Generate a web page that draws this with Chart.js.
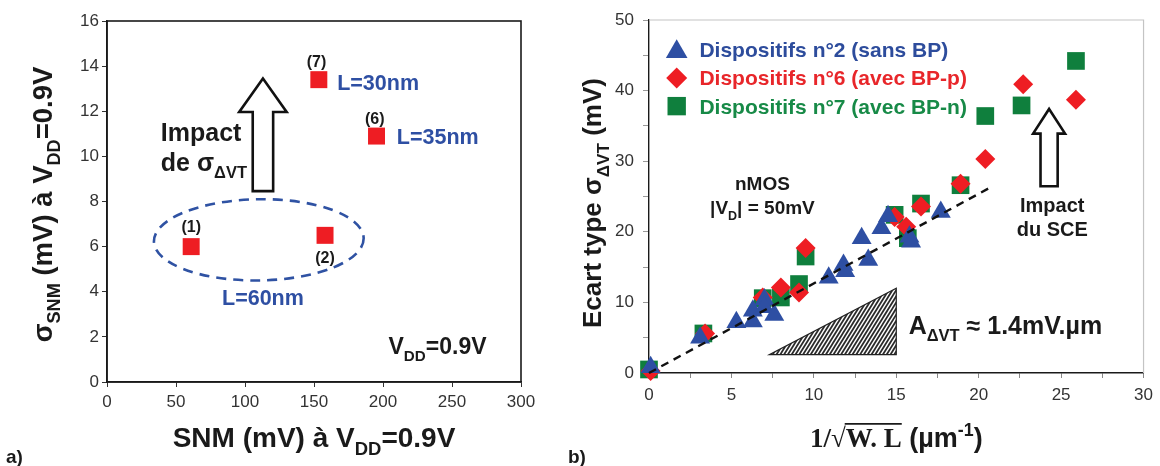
<!DOCTYPE html>
<html><head><meta charset="utf-8">
<script src="https://cdn.jsdelivr.net/npm/chart.js@4.4.0/dist/chart.umd.min.js"></script>
<style>
html,body{margin:0;padding:0;background:#fff;}
#wrap{position:relative;width:1160px;height:466px;overflow:hidden;background:#fff;}
#a{position:absolute;left:0;top:0;}
#b{position:absolute;left:560px;top:0;}
</style></head><body>
<div id="wrap"><canvas id="a" width="560" height="466"></canvas><canvas id="b" width="600" height="466"></canvas></div>
<script>
// ---------- data : chart a ----------
const snmValues = [61, 158, 153.5, 195.3];
const sigmaSnmValues = [6.0, 6.5, 13.4, 10.9];
const deviceTags = ['(1)', '(2)', '(7)', '(6)'];
// ---------- data : chart b ----------
const seriesNames = ['Dispositifs n°2 (sans BP)', 'Dispositifs n°6 (avec BP-p)', 'Dispositifs n°7 (avec BP-n)'];
const dev2X = [0.1, 3.1, 5.3, 6.3, 6.3, 7.0, 7.0, 7.6, 10.9, 11.8, 11.9, 12.9, 13.3, 14.1, 14.5, 15.8, 15.9, 17.7];
const dev2Y = [0.8, 5.0, 7.2, 7.3, 8.8, 10.4, 9.3, 8.2, 13.5, 15.3, 14.4, 19.1, 16.0, 20.5, 22.2, 19.3, 18.6, 22.8];
const dev6X = [0.1, 3.4, 6.9, 8.0, 9.1, 9.5, 14.9, 15.6, 16.5, 18.9, 20.4, 22.7, 25.9];
const dev6Y = [0.3, 5.6, 10.7, 12.1, 11.4, 17.7, 22.1, 20.7, 23.6, 26.8, 30.3, 40.9, 38.7];
const dev7X = [0.0, 3.3, 6.9, 8.0, 9.1, 9.5, 14.9, 15.7, 16.5, 18.9, 20.4, 22.6, 25.9];
const dev7Y = [0.5, 5.6, 10.6, 10.7, 12.6, 16.5, 22.4, 19.1, 24.0, 26.6, 36.4, 37.9, 44.2];
const fitX = [0, 20.8];
const fitY = [0, 26.4];

const FONT = "'Liberation Sans', Arial, Helvetica, sans-serif";
const SERIF = "'Liberation Serif', 'DejaVu Serif', serif";
const BLUE = '#2E4FA3', RED = '#EE1D23', GREEN = '#0F7F3D', INK = '#1a1a1a';

function pts(xs, ys) { return xs.map((x, i) => ({x: x, y: ys[i]})); }

function drawRich(ctx, parts, x, y, o) {
  ctx.save();
  ctx.translate(x, y);
  if (o.rotate) ctx.rotate(o.rotate);
  const fontOf = p => {
    const s = (p.sub || p.sup) ? o.size * 0.66 : o.size;
    return (p.weight || o.weight || 'bold') + ' ' + s + 'px ' + (p.family || o.family || FONT);
  };
  let total = 0;
  const widths = parts.map(p => { ctx.font = fontOf(p); const w = ctx.measureText(p.t).width; total += w; return w; });
  let cx = o.align === 'center' ? -total / 2 : (o.align === 'right' ? -total : 0);
  ctx.textBaseline = 'alphabetic';
  ctx.textAlign = 'left';
  ctx.fillStyle = o.color || INK;
  ctx.strokeStyle = o.color || INK;
  parts.forEach((p, i) => {
    ctx.font = fontOf(p);
    const dy = p.sub ? o.size * 0.3 : (p.sup ? -o.size * 0.4 : 0);
    ctx.fillText(p.t, cx, dy);
    if (p.overline) {
      ctx.lineWidth = 1.8;
      ctx.beginPath();
      ctx.moveTo(cx - 1, -o.size * 0.86);
      ctx.lineTo(cx + widths[i], -o.size * 0.86);
      ctx.stroke();
    }
    cx += widths[i];
  });
  ctx.restore();
}

function hollowArrow(ctx, sx, sy, a) {
  const cx = sx.getPixelForValue(a.x);
  const tip = sy.getPixelForValue(a.tip);
  const base = sy.getPixelForValue(a.headBase);
  const bottom = sy.getPixelForValue(a.bottom);
  const hw = Math.abs(sx.getPixelForValue(a.x + a.headHalf) - cx);
  const sw = Math.abs(sx.getPixelForValue(a.x + a.shaftHalf) - cx);
  ctx.save();
  ctx.beginPath();
  ctx.moveTo(cx, tip);
  ctx.lineTo(cx + hw, base);
  ctx.lineTo(cx + sw, base);
  ctx.lineTo(cx + sw, bottom);
  ctx.lineTo(cx - sw, bottom);
  ctx.lineTo(cx - sw, base);
  ctx.lineTo(cx - hw, base);
  ctx.closePath();
  ctx.fillStyle = '#fff';
  ctx.fill();
  ctx.lineWidth = 2.6;
  ctx.lineJoin = 'miter';
  ctx.strokeStyle = '#111';
  ctx.stroke();
  ctx.restore();
}

function marker(ctx, style, x, y, r, color) {
  ctx.save();
  ctx.fillStyle = color;
  ctx.beginPath();
  if (style === 'triangle') {
    ctx.moveTo(x, y - r);
    ctx.lineTo(x + r * Math.sin(2 * Math.PI / 3), y + r / 2);
    ctx.lineTo(x - r * Math.sin(2 * Math.PI / 3), y + r / 2);
  } else if (style === 'rectRot') {
    ctx.moveTo(x - r, y); ctx.lineTo(x, y - r); ctx.lineTo(x + r, y); ctx.lineTo(x, y + r);
  } else {
    const s = r * Math.SQRT1_2;
    ctx.rect(x - s, y - s, 2 * s, 2 * s);
  }
  ctx.closePath();
  ctx.fill();
  ctx.restore();
}

// ---------- chart a annotations ----------
const annotA = {
  id: 'annotA',
  afterDraw(chart) {
    const ctx = chart.ctx, sx = chart.scales.x, sy = chart.scales.y, ca = chart.chartArea;
    ctx.save();
    ctx.strokeStyle = '#1a1a1a';
    ctx.lineWidth = 1.6;
    ctx.strokeRect(ca.left, ca.top, ca.right - ca.left, ca.bottom - ca.top);
    ctx.restore();
    // ellipse
    const ex = sx.getPixelForValue(110), ey = sy.getPixelForValue(6.3);
    const rx = sx.getPixelForValue(110 + 76) - ex, ry = ey - sy.getPixelForValue(6.3 + 1.8);
    ctx.save();
    ctx.strokeStyle = '#2F52A3';
    ctx.lineWidth = 2.6;
    ctx.setLineDash([10, 7]);
    ctx.beginPath();
    ctx.ellipse(ex, ey, rx, ry, -0.015, 0, Math.PI * 2);
    ctx.stroke();
    ctx.restore();
    hollowArrow(ctx, sx, sy, {x: 113, tip: 13.45, headBase: 11.97, bottom: 8.46, headHalf: 17.2, shaftHalf: 7.4});
    const T = (parts, x, y, size, align, color) =>
      drawRich(ctx, parts, sx.getPixelForValue(x), sy.getPixelForValue(y) + size * 0.36, {size: size, align: align, color: color});
    deviceTags.forEach((tag, i) => {
      const offs = [0.9, -0.96, 0.8, 0.8][i];
      const dx = [0, 0, -1.7, -1.3][i];
      T([{t: tag}], snmValues[i] + dx, sigmaSnmValues[i] + offs, 16, 'center', INK);
    });
    T([{t: 'L=30nm'}], 166.8, 13.3, 21.5, 'left', BLUE);
    T([{t: 'L=35nm'}], 210, 10.87, 21.5, 'left', BLUE);
    T([{t: 'L=60nm'}], 113, 3.75, 21.5, 'center', BLUE);
    T([{t: 'Impact'}], 39, 11.1, 25, 'left', INK);
    T([{t: 'de σ'}, {t: 'ΔVT', sub: true}], 39, 9.76, 25, 'left', INK);
    T([{t: 'V'}, {t: 'DD', sub: true}, {t: '=0.9V'}], 204, 1.6, 23, 'left', INK);
    // axis titles
    drawRich(ctx, [{t: 'σ'}, {t: 'SNM', sub: true}, {t: ' (mV) à V'}, {t: 'DD', sub: true}, {t: '=0.9V'}],
      52, (ca.top + ca.bottom) / 2 + 3, {size: 27.5, align: 'center', rotate: -Math.PI / 2});
    drawRich(ctx, [{t: 'SNM (mV) à V'}, {t: 'DD', sub: true}, {t: '=0.9V'}],
      (ca.left + ca.right) / 2, 447, {size: 28, align: 'center'});
    drawRich(ctx, [{t: 'a)'}], 6, 463, {size: 19, align: 'left'});
  }
};

// ---------- chart b annotations ----------
const annotB = {
  id: 'annotB',
  beforeDatasetsDraw(chart) {
    const ctx = chart.ctx, sx = chart.scales.x, sy = chart.scales.y;
    // hatched slope triangle
    const p = [[7.3, 2.6], [15.0, 2.6], [15.0, 12.0]].map(q => [sx.getPixelForValue(q[0]), sy.getPixelForValue(q[1])]);
    const tri = () => {
      ctx.beginPath();
      ctx.moveTo(p[0][0], p[0][1]); ctx.lineTo(p[1][0], p[1][1]); ctx.lineTo(p[2][0], p[2][1]); ctx.closePath();
    };
    ctx.save();
    tri();
    ctx.fillStyle = '#fff'; ctx.fill();
    ctx.save();
    tri();
    ctx.clip();
    ctx.strokeStyle = '#2a2a2a';
    ctx.lineWidth = 1.8;
    const h = p[0][1] - p[2][1];
    for (let x0 = p[0][0] - h; x0 < p[1][0] + 5; x0 += 3.8) {
      ctx.beginPath();
      ctx.moveTo(x0, p[0][1] + 2);
      ctx.lineTo(x0 + (h + 4) * 0.62, p[2][1] - 2);
      ctx.stroke();
    }
    ctx.restore();
    tri();
    ctx.strokeStyle = '#222'; ctx.lineWidth = 1.2;
    ctx.stroke();
    ctx.restore();
  },
  afterDraw(chart) {
    const ctx = chart.ctx, sx = chart.scales.x, sy = chart.scales.y, ca = chart.chartArea;
    // light top/right frame
    ctx.save();
    ctx.strokeStyle = '#c4c4c4'; ctx.lineWidth = 1.2;
    ctx.beginPath();
    ctx.moveTo(ca.left, ca.top); ctx.lineTo(ca.right, ca.top); ctx.lineTo(ca.right, ca.bottom);
    ctx.stroke();
    ctx.restore();
    hollowArrow(ctx, sx, sy, {x: 24.27, tip: 37.4, headBase: 33.9, bottom: 26.46, headHalf: 0.97, shaftHalf: 0.52});
    const T = (parts, x, y, size, align, color) =>
      drawRich(ctx, parts, sx.getPixelForValue(x), sy.getPixelForValue(y) + size * 0.36, {size: size, align: align, color: color});
    T([{t: 'nMOS'}], 6.88, 26.9, 19, 'center', INK);
    T([{t: '|V'}, {t: 'D', sub: true}, {t: '| = 50mV'}], 6.88, 23.5, 19, 'center', INK);
    T([{t: 'A'}, {t: 'ΔVT', sub: true}, {t: ' ≈ 1.4mV.µm'}], 15.75, 6.8, 25, 'left', INK);
    T([{t: 'Impact'}], 24.46, 23.8, 20, 'center', INK);
    T([{t: 'du SCE'}], 24.46, 20.4, 20, 'center', INK);
    // legend
    const styles = ['triangle', 'rectRot', 'rect'];
    const cols = [BLUE, RED, GREEN];
    const tcols = ['#2D4C9C', '#E8262A', '#178A47'];
    const radii = [12.5, 10.5, 13];
    [45.8, 41.8, 37.8].forEach((yy, i) => {
      marker(ctx, styles[i], sx.getPixelForValue(1.68), sy.getPixelForValue(yy) + (i === 0 ? 2 : 0), radii[i], cols[i]);
      T([{t: seriesNames[i]}], 3.06, yy, 21, 'left', tcols[i]);
    });
    // axis titles
    drawRich(ctx, [{t: 'Ecart type σ'}, {t: 'ΔVT', sub: true}, {t: ' (mV)'}],
      41, 203, {size: 26, align: 'center', rotate: -Math.PI / 2});
    drawRich(ctx, [{t: '1/', family: SERIF}, {t: '√', family: SERIF, weight: 'normal'}, {t: 'W. L', family: SERIF, overline: true}, {t: ' (µm'}, {t: '-1', sup: true}, {t: ')'}],
      (ca.left + ca.right) / 2, 447, {size: 27, align: 'center'});
    drawRich(ctx, [{t: 'b)'}], 8, 463, {size: 19, align: 'left'});
  }
};

const tickFont = {size: 17, family: FONT};

new Chart(document.getElementById('a'), {
  type: 'scatter',
  data: {datasets: [{
    data: pts(snmValues, sigmaSnmValues),
    pointStyle: 'rect', pointRadius: 12, pointHoverRadius: 12, clip: false,
    backgroundColor: RED, borderColor: RED, borderWidth: 0
  }]},
  options: {
    responsive: false, animation: false, events: [],
    layout: {padding: {left: 0, right: 39, top: 21, bottom: 0}},
    plugins: {legend: {display: false}, tooltip: {enabled: false}},
    scales: {
      x: {type: 'linear', min: 0, max: 300,
        ticks: {stepSize: 50, color: '#333', font: tickFont, padding: 5, maxRotation: 0},
        grid: {drawOnChartArea: false, tickLength: 5, color: '#333'},
        border: {color: '#1a1a1a', width: 1.6},
        afterFit(s) { s.height = 84; }},
      y: {type: 'linear', min: 0, max: 16,
        ticks: {stepSize: 2, color: '#333', font: tickFont, padding: 3},
        grid: {drawOnChartArea: false, tickLength: 5, color: '#333'},
        border: {color: '#1a1a1a', width: 1.6},
        afterFit(s) { s.width = 107; }}
    }
  },
  plugins: [annotA]
});

new Chart(document.getElementById('b'), {
  type: 'scatter',
  data: {datasets: [
    {label: 'fit', data: pts(fitX, fitY), showLine: true, borderColor: '#111', borderWidth: 2.4,
      borderDash: [8, 6], pointRadius: 0, order: -1, fill: false, clip: false},
    {label: seriesNames[0], data: pts(dev2X, dev2Y), pointStyle: 'triangle', pointRadius: 11.5, clip: false,
      backgroundColor: BLUE, borderColor: BLUE, borderWidth: 0},
    {label: seriesNames[1], data: pts(dev6X, dev6Y), pointStyle: 'rectRot', pointRadius: 10, clip: false,
      backgroundColor: RED, borderColor: RED, borderWidth: 0},
    {label: seriesNames[2], data: pts(dev7X, dev7Y), pointStyle: 'rect', pointRadius: 12.5, clip: false,
      backgroundColor: GREEN, borderColor: GREEN, borderWidth: 0}
  ]},
  options: {
    responsive: false, animation: false, events: [],
    layout: {padding: {left: 0, right: 14, top: 20, bottom: 0}},
    plugins: {legend: {display: false}, tooltip: {enabled: false}},
    scales: {
      x: {type: 'linear', min: 0, max: 30,
        ticks: {stepSize: 2.5, color: '#333', font: tickFont, padding: 7, maxRotation: 0, autoSkip: false,
          callback: v => (Math.abs(v % 5) < 1e-9 ? v : '')},
        grid: {drawOnChartArea: false, tickLength: 5, color: '#888'},
        border: {color: '#1a1a1a', width: 1.4},
        afterFit(s) { s.height = 93; }},
      y: {type: 'linear', min: 0, max: 50,
        ticks: {stepSize: 5, color: '#333', font: tickFont, padding: 9, autoSkip: false,
          callback: v => (Math.abs(v % 10) < 1e-9 ? v : '')},
        grid: {drawOnChartArea: false, tickLength: 6, color: '#999'},
        border: {color: '#1a1a1a', width: 1.4},
        afterFit(s) { s.width = 89; }}
    }
  },
  plugins: [annotB]
});
</script>
</body></html>
